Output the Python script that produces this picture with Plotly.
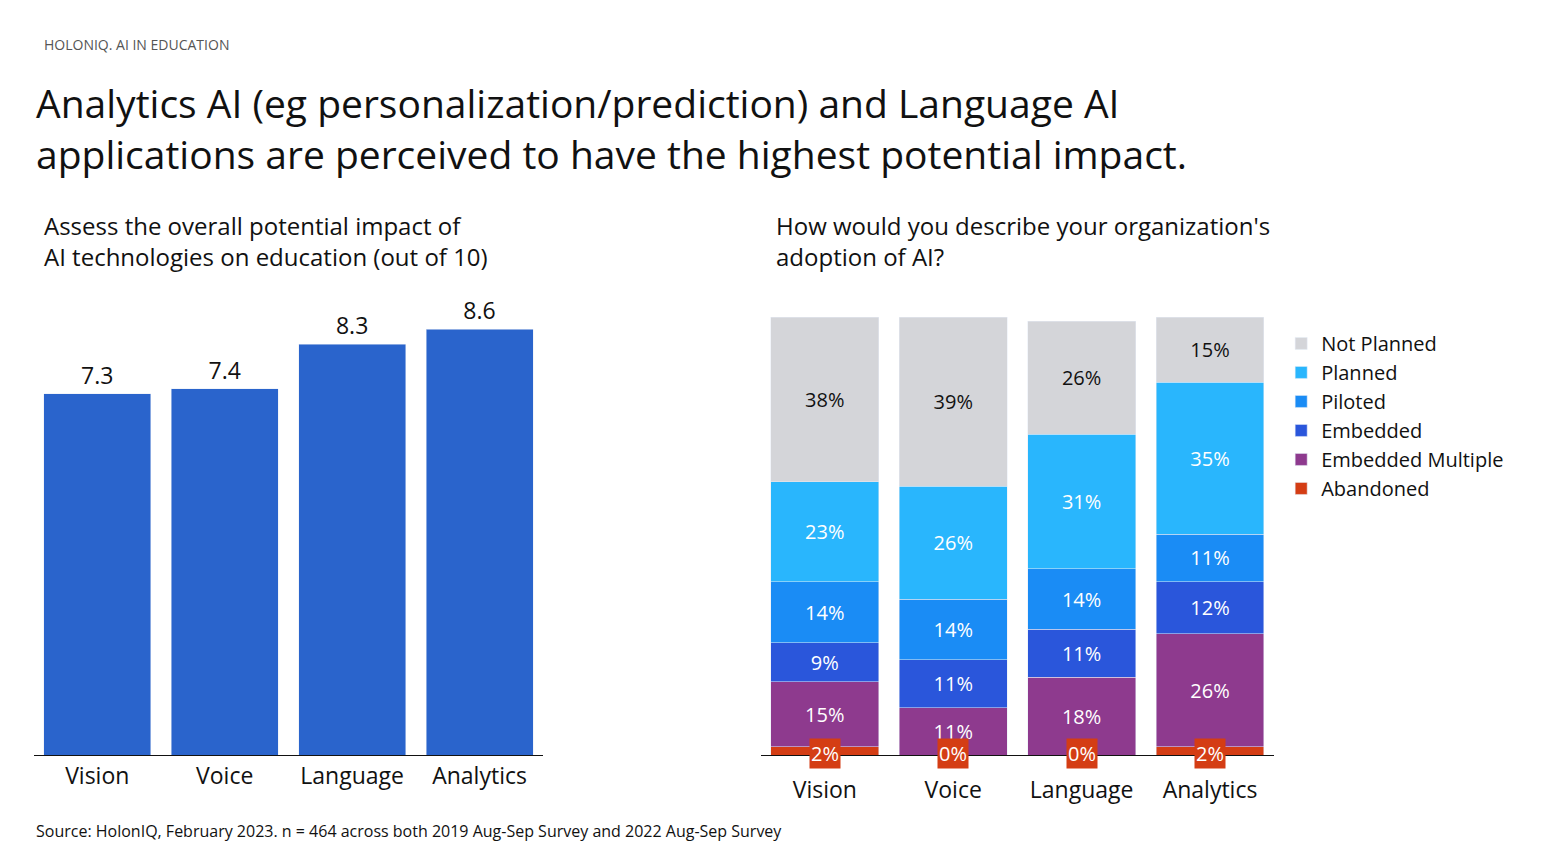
import plotly.graph_objects as go

cats = ["Vision", "Voice", "Language", "Analytics"]
impact = [7.3, 7.4, 8.3, 8.6]
series_names = ["Abandoned", "Embedded Multiple", "Embedded", "Piloted", "Planned", "Not Planned"]
abandoned = [2, 0, 0, 2]
embedded_multiple = [15, 11, 18, 26]
embedded = [9, 11, 11, 12]
piloted = [14, 14, 14, 11]
planned = [23, 26, 31, 35]
not_planned = [38, 39, 26, 15]
series_vals = [abandoned, embedded_multiple, embedded, piloted, planned, not_planned]
colors = ["#d43d14", "#8e3a8e", "#2a56db", "#1a8cf5", "#29b6fd", "#d4d5d9"]

FONT = "Open Sans"
fig = go.Figure()
fig.add_trace(go.Bar(x=cats, y=impact, marker_color="#2a64cc", text=[f"{v:.1f}" for v in impact],
                     textposition="outside", textfont=dict(size=23, color="#111"), cliponaxis=False,
                     showlegend=False, xaxis="x", yaxis="y"))
for name, vals, col in zip(series_names, series_vals, colors):
    is_ab = name == "Abandoned"
    fig.add_trace(go.Bar(x=cats, y=vals, name=name, marker_color=col,
                         text=None if is_ab else [f"{v}%" for v in vals],
                         textposition="inside", insidetextanchor="middle",
                         textfont=dict(size=20, color="#111" if name == "Not Planned" else "white"),
                         xaxis="x2", yaxis="y2"))
for c, v in zip(cats, abandoned):
    fig.add_annotation(x=c, y=0, xref="x2", yref="y2", text=f"{v}%", showarrow=False,
                       bgcolor="#d43d14", font=dict(size=20, color="white"), borderpad=1, yshift=2)

fig.update_layout(
    width=1547, height=868, barmode="stack", bargap=0.16,
    plot_bgcolor="white", paper_bgcolor="white", font=dict(family=FONT, color="#111"),
    margin=dict(l=0, r=0, t=0, b=0),
    xaxis=dict(domain=[0.0165, 0.346], showline=True, linecolor="#111", tickfont=dict(size=23), ticks=""),
    yaxis=dict(domain=[0.139, 0.630], range=[0, 8.6], visible=False),
    xaxis2=dict(domain=[0.4865, 0.8185], anchor="y2", showline=True, linecolor="#111", tickfont=dict(size=23),
                ticklabelstandoff=14),
    yaxis2=dict(domain=[0.139, 0.644], range=[0, 101], visible=False),
    legend=dict(x=0.823, y=0.636, xanchor="left", yanchor="top", traceorder="reversed",
                font=dict(size=20), itemwidth=30, tracegroupgap=0),
)
texts = [
    (0.022, 0.958, "HOLONIQ. AI IN EDUCATION", 14, "#555"),
    (0.017, 0.862, "Analytics AI (eg personalization/prediction) and Language AI<br>applications are perceived to have the highest potential impact.", 39, "#111"),
    (0.022, 0.732, "Assess the overall potential impact of<br>AI technologies on education (out of 10)", 24, "#111"),
    (0.495, 0.732, "How would you describe your organization's<br>adoption of AI?", 24, "#111"),
    (0.017, 0.052, "Source: HolonIQ, February 2023. n = 464 across both 2019 Aug-Sep Survey and 2022 Aug-Sep Survey", 16, "#111"),
]
for x, y, t, s, c in texts:
    fig.add_annotation(x=x, y=y, xref="paper", yref="paper", text=t, showarrow=False, xanchor="left",
                       yanchor="middle", align="left", font=dict(size=s, color=c))
fig.write_html("out.html")
